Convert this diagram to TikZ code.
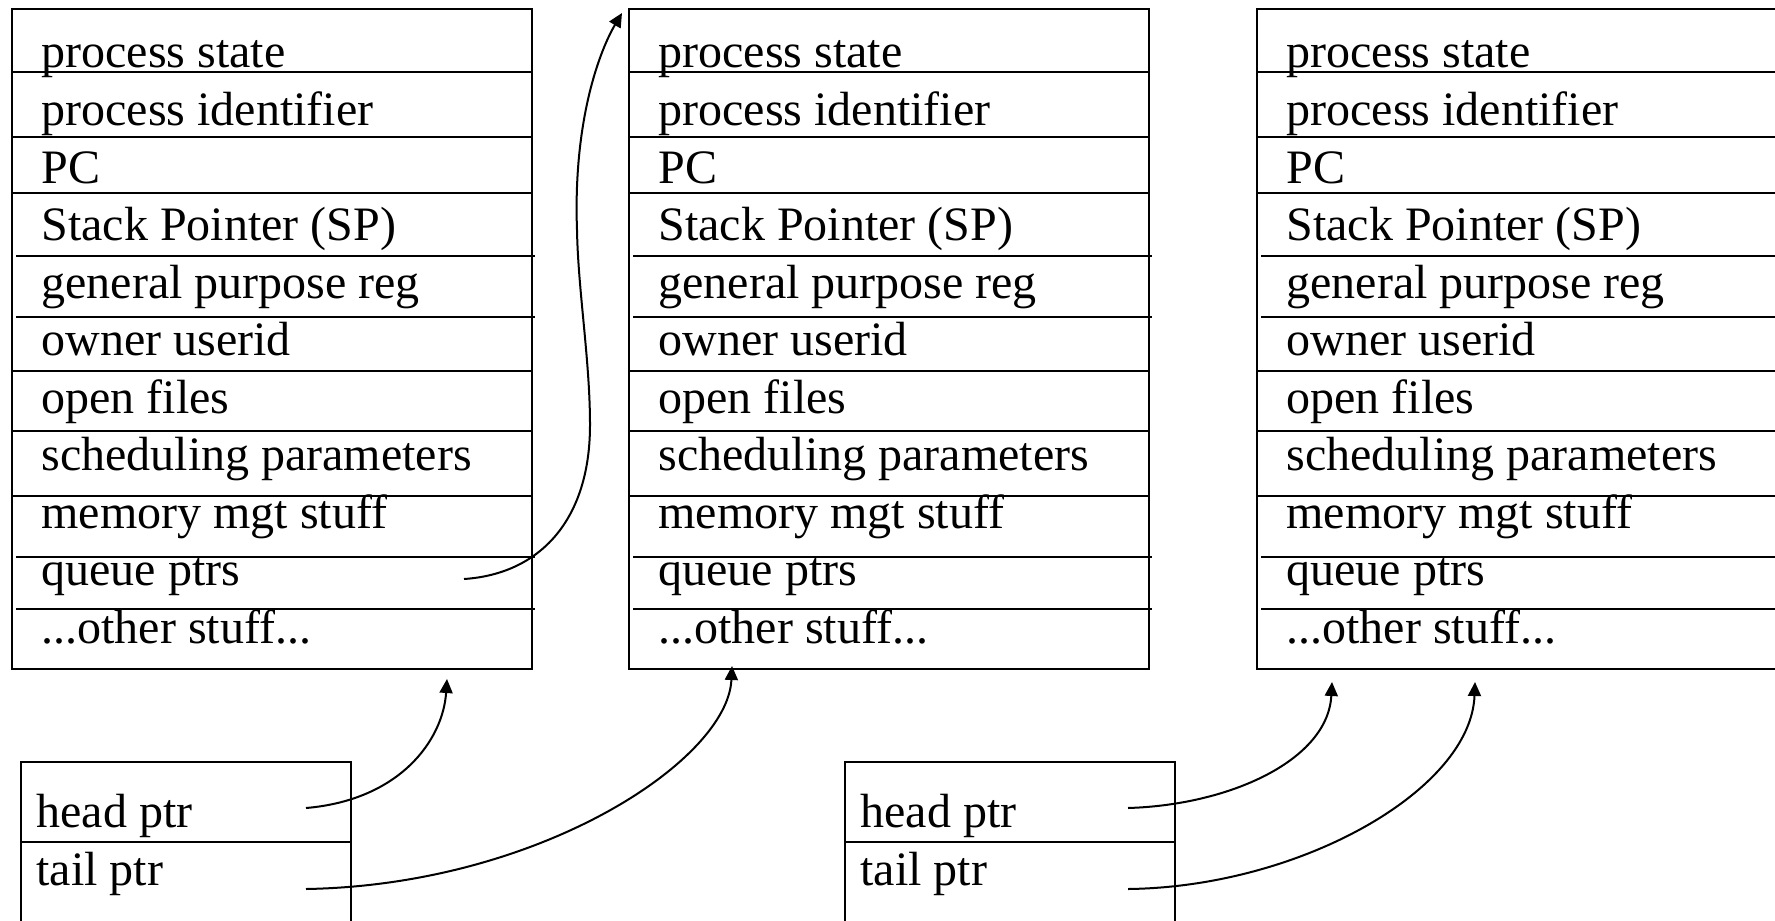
\documentclass[tikz,border=0pt]{standalone}
\usepackage{fontspec}
\setmainfont{Liberation Serif}
\usetikzlibrary{arrows.meta}

% last row label, kept out of the \foreach list (three dots there mean a range)
\newcommand\otherstufflabel{...other stuff...}

% one process control block: frame, row separators and field labels
\newcommand\drawpcb[2]{%
  \node[pcbbox, anchor=north west] (#1) at (#2,9) {};
  \foreach \yy in {72,137,193,371,431,496}
    \draw[rowline] (#2,\yy) -- ++(520,0);
  \foreach \yy in {256,317,557,609}
    \draw[rowline] (#2+4,\yy) -- ++(519,0);
  \foreach \t [count=\i from 0] in {process state, process identifier, PC,
      {Stack Pointer (SP)}, general purpose reg, owner userid, open files,
      scheduling parameters, memory mgt stuff, queue ptrs, \otherstufflabel}
    \node[field] (#1-\i) at (#2+29, 68+57.5*\i) {\t};
}

% a queue header with head and tail pointers
\newcommand\drawqueue[2]{%
  \node[qbox, anchor=north west] (#1) at (#2,762) {};
  \draw[rowline] (#2,842) -- ++(330,0);
  \node[field] (#1-head) at (#2+15,827) {head ptr};
  \node[field] (#1-tail) at (#2+15,885) {tail ptr};
}

\begin{document}
\begin{tikzpicture}[x=0.5pt,y=-0.5pt,
  pcbbox/.style={draw, line width=1.25pt, minimum width=260pt,
    minimum height=330pt, inner sep=0pt, outer sep=0pt},
  qbox/.style={draw, line width=1.25pt, minimum width=165pt,
    minimum height=100pt, inner sep=0pt, outer sep=0pt},
  rowline/.style={line width=1.25pt},
  field/.style={anchor=base west, inner sep=0pt,
    font=\fontsize{24pt}{28pt}\selectfont},
  ptr/.style={line width=1pt, -{Triangle[length=7pt,width=6.5pt]}}]

\useasboundingbox (0,0) rectangle (1775,920);
\fill[white] (0,0) rectangle (1775,920);

\drawpcb{pcbA}{12}
\drawpcb{pcbB}{629}
\drawpcb{pcbC}{1257}

\drawqueue{qA}{21}
\drawqueue{qB}{845}

% pointer origins and targets
\coordinate (qpA) at (464,579);
\coordinate (nextB) at (622,13);
\coordinate (hA) at (306,808);
\coordinate (tA) at (306,889);
\coordinate (hB) at (1128,808);
\coordinate (tB) at (1128,889);
\coordinate (tgtA) at (447,679);
\coordinate (tgtB) at (732,666);
\coordinate (tgtC1) at (1332,682);
\coordinate (tgtC2) at (1475,682);

% queue link from the first PCB to the second
\draw[ptr] (qpA) .. controls (540,574) and (590,520) .. (590,425)
  .. controls (590,360) and (578,290) .. (577,230)
  .. controls (573,120) and (600,50) .. (nextB);

% head and tail pointers
\draw[ptr] (hA) .. controls (400,800) and (443,740) .. (tgtA);
\draw[ptr] (tA) .. controls (540,885) and (728,760) .. (tgtB);
\draw[ptr] (hB) .. controls (1230,805) and (1328,760) .. (tgtC1);
\draw[ptr] (tB) .. controls (1300,887) and (1471,790) .. (tgtC2);
\end{tikzpicture}
\end{document}
